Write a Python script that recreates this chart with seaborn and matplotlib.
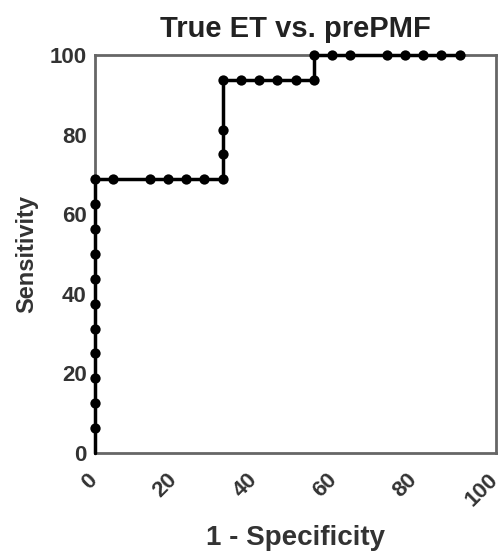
import matplotlib
matplotlib.use("Agg")
import matplotlib.pyplot as plt
import matplotlib.transforms as mtrans
import seaborn as sns
import pandas as pd

title = "True ET vs. prePMF"
xlabel = "1 - Specificity"
ylabel = "Sensitivity"

# 1 - specificity (%) and sensitivity (%) for each ROC point
one_minus_spec = [0, 0, 0, 0, 0, 0, 0, 0, 0, 0, 0,
                  4.55, 13.64, 18.18, 22.73, 27.27, 31.82,
                  31.82, 31.82, 31.82,
                  36.36, 40.91, 45.45, 50.0, 54.55,
                  54.55, 59.09, 63.64, 72.73, 77.27, 81.82, 86.36, 90.91]
sensitivity = [6.25, 12.5, 18.75, 25.0, 31.25, 37.5, 43.75, 50.0, 56.25, 62.5, 68.75,
               68.75, 68.75, 68.75, 68.75, 68.75, 68.75,
               75.0, 81.25, 93.75,
               93.75, 93.75, 93.75, 93.75, 93.75,
               100, 100, 100, 100, 100, 100, 100, 100]
ticks = [0, 20, 40, 60, 80, 100]

sns.set_theme(style="white")
plt.rcParams['font.family'] = ['Liberation Sans', 'DejaVu Sans']

pts = pd.DataFrame({"x": one_minus_spec, "y": sensitivity})
line = pd.concat([pd.DataFrame({"x": [0.0], "y": [0.0]}), pts], ignore_index=True)

fig = plt.figure(figsize=(5.03, 5.55), dpi=100)
ax = fig.add_axes([0.189, 0.184, 0.797, 0.717])

for sp in ax.spines.values():
    sp.set_color("#666666")
    sp.set_linewidth(2)
    sp.set_zorder(1)

sns.lineplot(data=line, x="x", y="y", sort=False, estimator=None,
             color="black", linewidth=2.5, ax=ax, zorder=4)
sns.scatterplot(data=pts, x="x", y="y", color="black", s=55,
                edgecolor="black", linewidth=0, ax=ax, zorder=5)
for art in ax.lines + ax.collections:
    art.set_clip_on(False)

ax.set_xlim(0, 100)
ax.set_ylim(0, 100)
ax.set_xticks(ticks)
ax.set_yticks(ticks)
ax.set_xticklabels([str(t) for t in ticks], rotation=45, ha="right", va="top",
                   fontsize=16, fontweight="bold", color="#333333")
ax.set_yticklabels([str(t) for t in ticks], fontsize=16, fontweight="bold", color="#333333")
ax.tick_params(axis="both", direction="out", length=4, width=1.5, color="#666666", pad=2)
ax.tick_params(axis="x", pad=8)
offset = mtrans.ScaledTranslation(0.06, 0, fig.dpi_scale_trans)
for lab in ax.get_xticklabels():
    lab.set_transform(lab.get_transform() + offset)

ax.set_xlabel(xlabel, fontsize=20, fontweight="bold", color="#333333", labelpad=10)
ax.set_ylabel(ylabel, fontsize=17, fontweight="bold", color="#333333", labelpad=8)
ax.set_title(title, fontsize=21, fontweight="bold", color="#222222", pad=13)

fig.savefig("out.png", dpi=100)
